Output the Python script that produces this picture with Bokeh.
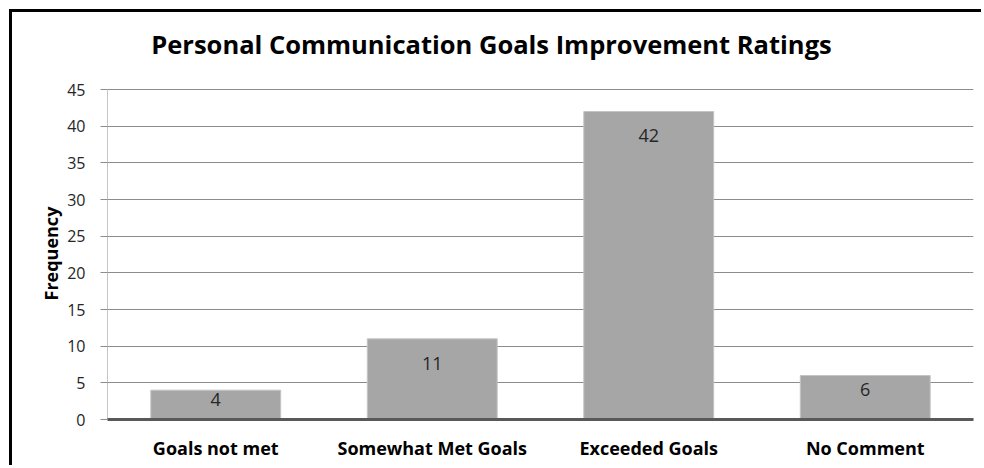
from bokeh.plotting import figure
from bokeh.models import (ColumnDataSource, FixedTicker, Range1d, Label, Title,
                          GlobalInlineStyleSheet)
from bokeh.embed import file_html
from bokeh.resources import INLINE
from bokeh.core.properties import value

# ---- data ----
categories = ["Goals not met", "Somewhat Met Goals", "Exceeded Goals", "No Comment"]
frequency = [4, 11, 42, 6]
y_ticks = [0, 5, 10, 15, 20, 25, 30, 35, 40, 45]
title_text = "Personal Communication Goals Improvement Ratings"
y_label = "Frequency"

FONT = "Open Sans"

# layout (pixels)
CANVAS_TOP = 12          # margin + border
FRAME_BOTTOM = 419       # page y of value 0
AXIS_TOP = 89            # page y of value 45
y_max = y_ticks[-1]
frame_h = FRAME_BOTTOM - CANVAS_TOP
y_end = y_max * frame_h / (FRAME_BOTTOM - AXIS_TOP)   # room above the axis for the title

label_y = [max(v - 3.3, v * 0.68) for v in frequency]
src = ColumnDataSource(dict(cat=categories, freq=frequency, ly=label_y,
                            txt=[str(v) for v in frequency]))

p = figure(x_range=categories, y_range=Range1d(0, y_end),
           width=972, height=456, output_backend="svg", toolbar_location=None,
           min_border_left=95, min_border_right=11, min_border_top=0, min_border_bottom=49,
           styles={"margin-left": "9px", "margin-top": "9px",
                   "border-style": "solid", "border-color": "#000000",
                   "border-width": "3px 0px 0px 3px"})
p.stylesheets = [GlobalInlineStyleSheet(css="html, body { margin: 0; overflow: hidden; }")]

p.outline_line_color = None
p.background_fill_color = "white"
p.border_fill_color = "white"

# title (screen units relative to plot frame)
p.add_layout(Label(x=384, y=FRAME_BOTTOM - 43, x_units="screen", y_units="screen",
                   text=title_text, text_align="center", text_baseline="middle",
                   text_font=FONT, text_font_size="25.5px", text_font_style="bold",
                   text_color="#000000"))

# y-axis label, centred on the 0-45 part of the axis
p.add_layout(Title(text=y_label, align="left", offset=119, standoff=4,
                   text_font=FONT, text_font_size="18px", text_font_style="bold",
                   text_color="#000000"), "left")

p.vbar(x="cat", top="freq", width=0.6, source=src,
       fill_color="#a6a6a6", line_color="#c4c4c4", line_width=1)

p.text(x="cat", y="ly", text="txt", source=src, text_align="center",
       text_baseline="middle", text_font=value(FONT), text_font_size="18px",
       text_color="#262626")

# vertical axis line only from 0 to 45
p.segment(x0=[0], y0=[y_ticks[0]], x1=[0], y1=[y_max], line_color="#8c8c8c", line_width=1)

# grid
p.xgrid.grid_line_color = None
p.ygrid.grid_line_color = "#8c8c8c"
p.ygrid.grid_line_width = 1
p.yaxis.ticker = FixedTicker(ticks=y_ticks)

# y axis
p.yaxis.axis_line_color = None
p.yaxis.major_tick_line_color = "#8c8c8c"
p.yaxis.major_tick_out = 7
p.yaxis.major_tick_in = 0
p.yaxis.minor_tick_line_color = None
p.yaxis.major_label_standoff = 15
p.yaxis.major_label_text_font = FONT
p.yaxis.major_label_text_font_size = "16px"
p.yaxis.major_label_text_color = "#262626"

# x axis
p.xaxis.axis_line_color = "#595959"
p.xaxis.axis_line_width = 3
p.xaxis.major_tick_line_color = None
p.xaxis.minor_tick_line_color = None
p.xaxis.major_label_standoff = 10
p.xaxis.major_label_text_font = FONT
p.xaxis.major_label_text_font_size = "18px"
p.xaxis.major_label_text_font_style = "bold"
p.xaxis.major_label_text_color = "#000000"

open("out.html", "w").write(file_html(p, INLINE))
